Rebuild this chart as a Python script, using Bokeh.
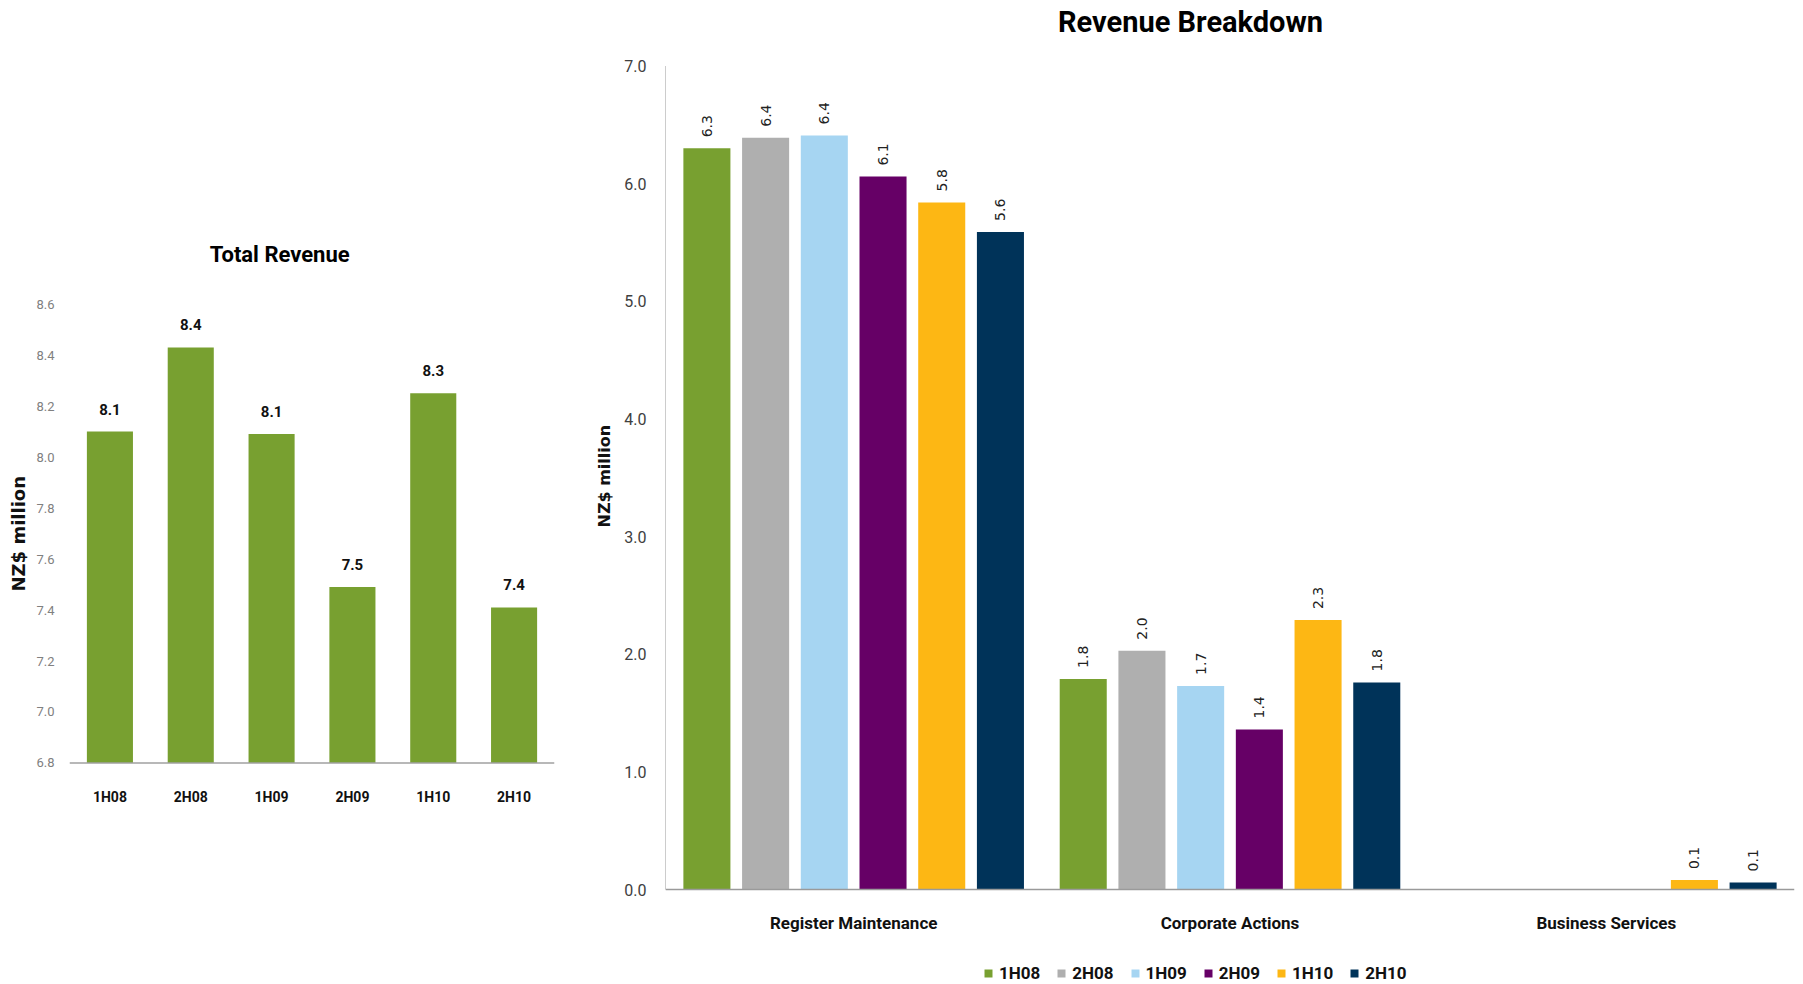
import math
from bokeh.plotting import figure
from bokeh.models import (ColumnDataSource, FactorRange, Range1d, Label, Legend, LegendItem,
                          PrintfTickFormatter, Span, Title)
from bokeh.transform import dodge
from bokeh.layouts import row
from bokeh.embed import file_html
from bokeh.resources import INLINE
from bokeh.core.properties import value

# ---------------- data ----------------
periods = ["1H08", "2H08", "1H09", "2H09", "1H10", "2H10"]
total_revenue = [8.10, 8.43, 8.09, 7.49, 8.25, 7.41]
total_labels = ["8.1", "8.4", "8.1", "7.5", "8.3", "7.4"]
total_ticks = [6.8, 7.0, 7.2, 7.4, 7.6, 7.8, 8.0, 8.2, 8.4, 8.6]

segments = ["Register Maintenance", "Corporate Actions", "Business Services"]
rev_1H08 = [6.30, 1.79, 0.0]
rev_2H08 = [6.39, 2.03, 0.0]
rev_1H09 = [6.41, 1.73, 0.0]
rev_2H09 = [6.06, 1.36, 0.0]
rev_1H10 = [5.84, 2.29, 0.08]
rev_2H10 = [5.59, 1.76, 0.06]
series = [rev_1H08, rev_2H08, rev_1H09, rev_2H09, rev_1H10, rev_2H10]
breakdown_ticks = [0, 1, 2, 3, 4, 5, 6, 7]
series_colors = ["#78A030", "#AFAFAF", "#A6D5F2", "#660066", "#FDB714", "#003359"]

COND = "Roboto"
H = 984
AXIS_GRAY = "#9A9A9A"

# ---------------- left: Total Revenue ----------------
base_l = total_ticks[0]
left = figure(width=580, height=H, x_range=FactorRange(*periods), y_range=Range1d(5.931, 9.791),
              output_backend="svg", toolbar_location=None, x_axis_location=None,
              min_border_left=69, min_border_right=26, min_border_top=0, min_border_bottom=0)
left.outline_line_color = None
left.grid.visible = False
src_l = ColumnDataSource(dict(p=periods, v=total_revenue, lbl=total_labels))
left.vbar(x="p", top="v", bottom=base_l, width=0.57, source=src_l, fill_color="#78A030", line_color=None)
left.text(x="p", y="v", text="lbl", source=src_l, text_align="center", text_baseline="bottom",
          y_offset=-17, text_font=value(COND), text_font_style="bold", text_font_size="15px",
          text_color="#111111")
left.add_layout(Span(location=base_l, dimension="width", line_color="#A0A0A0", line_width=1.5))
left.text(x="p", y=base_l, text="p", source=src_l, text_align="center", text_baseline="middle",
          y_offset=34, text_font=value(COND), text_font_style="bold", text_font_size="14px",
          text_color="#111111")
left.yaxis.ticker = total_ticks
left.yaxis.formatter = PrintfTickFormatter(format="%.1f")
left.yaxis.axis_line_color = None
left.yaxis.major_tick_line_color = None
left.yaxis.minor_tick_line_color = None
left.yaxis.major_label_text_font = COND
left.yaxis.major_label_text_font_size = "13px"
left.yaxis.major_label_text_color = "#808080"
left.yaxis.major_label_standoff = 9
left.add_layout(Label(x=2.6, y=8.795, text="Total Revenue", text_align="center", text_baseline="middle",
                      text_font=COND, text_font_style="bold", text_font_size="22px",
                      text_color="#000000"))
left.add_layout(Title(text="NZ$ million", align="left", offset=393, standoff=10,
                      text_font="DejaVu Sans", text_font_style="bold", text_font_size="18px",
                      text_color="#111111"), "left")

# ---------------- right: Revenue Breakdown ----------------
right = figure(width=1223, height=H, x_range=FactorRange(*segments), y_range=Range1d(-0.8075, 7.5568),
               output_backend="svg", toolbar_location=None, x_axis_location=None,
               min_border_left=85, min_border_right=9, min_border_top=0, min_border_bottom=0)
right.outline_line_color = None
right.grid.visible = False

data = dict(seg=segments)
for i, s in enumerate(series):
    data[periods[i]] = s
src_r = ColumnDataSource(data)

step = 0.156
bw = 0.125
items = []
for i, per in enumerate(periods):
    off = (i - 2.5) * step
    r = right.vbar(x=dodge("seg", off, range=right.x_range), top=per, width=bw, source=src_r,
                   fill_color=series_colors[i], line_color=None)
    items.append(LegendItem(label=per, renderers=[r]))
    segs = [sg for sg, v in zip(segments, series[i]) if v > 0]
    vals = [v for v in series[i] if v > 0]
    lbls = ["%.1f" % v for v in vals]
    src_t = ColumnDataSource(dict(seg=segs, v=vals, lbl=lbls))
    right.text(x=dodge("seg", off, range=right.x_range), y="v", text="lbl", source=src_t,
               angle=math.pi / 2, text_align="left", text_baseline="middle", y_offset=-11,
               text_font=value("DejaVu Sans"), text_font_size="14px", text_color="#222222")

# axis lines and category labels
base_r = breakdown_ticks[0]
right.add_layout(Span(location=base_r, dimension="width", line_color=AXIS_GRAY, line_width=1.5))
right.segment(x0=0, y0=breakdown_ticks[0], x1=0, y1=breakdown_ticks[-1],
              line_color=AXIS_GRAY, line_width=1)
right.text(x="seg", y=base_r, text="seg", source=src_r, text_align="center", text_baseline="middle",
           y_offset=33, text_font=value(COND), text_font_style="bold", text_font_size="17px",
           text_color="#111111")

right.yaxis.ticker = breakdown_ticks
right.yaxis.formatter = PrintfTickFormatter(format="%.1f")
right.yaxis.axis_line_color = None
right.yaxis.major_tick_line_color = None
right.yaxis.minor_tick_line_color = None
right.yaxis.major_label_text_font = COND
right.yaxis.major_label_text_font_size = "16px"
right.yaxis.major_label_text_color = "#404040"
right.yaxis.major_label_standoff = 13
right.add_layout(Title(text="NZ$ million", align="left", offset=457, standoff=15,
                       text_font="DejaVu Sans", text_font_style="bold", text_font_size="16px",
                       text_color="#111111"), "left")
right.add_layout(Label(x=1.395, y=7.378, text="Revenue Breakdown", text_align="center",
                       text_baseline="middle", text_font=COND, text_font_style="bold",
                       text_font_size="29px", text_color="#000000"))

legend = Legend(items=items, orientation="horizontal", location=(318, 1),
                border_line_color=None, background_fill_alpha=0, padding=0, margin=0,
                glyph_width=10, glyph_height=10, label_height=20, label_standoff=6, spacing=16,
                label_text_font=COND, label_text_font_style="bold",
                label_text_font_size="17px", label_text_color="#111111")
right.add_layout(legend)

layout = row(left, right)
open("out.html", "w").write(file_html(layout, INLINE))
